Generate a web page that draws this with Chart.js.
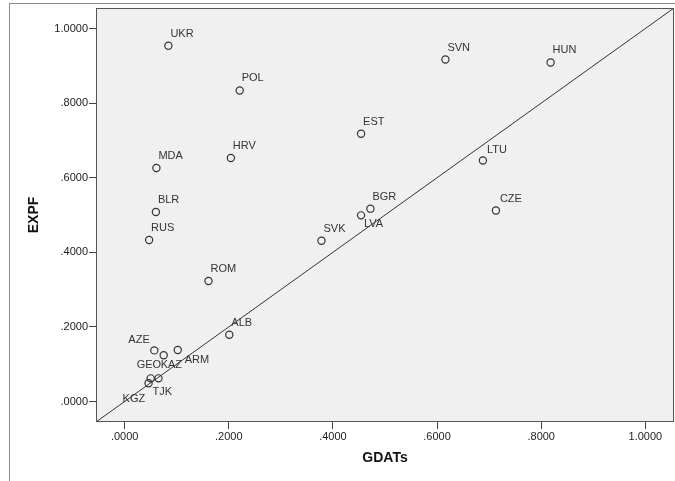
<!DOCTYPE html>
<html>
<head>
<meta charset="utf-8">
<script src="https://cdn.jsdelivr.net/npm/chart.js@4.4.1/dist/chart.umd.min.js"></script>
<style>
  body { margin: 0; background: #fff; }
  #wrap { position: relative; width: 675px; height: 481px; }
  #frame { position: absolute; left: 9px; top: 3px; right: 0; bottom: 0;
           border-left: 1px solid #8c8c8c; border-top: 1px solid #8c8c8c; }
  canvas { position: absolute; left: 0; top: 0; }
</style>
</head>
<body>
<div id="wrap">
  <div id="frame"></div>
  <canvas id="myChart" width="675" height="481"></canvas>
</div>
<script>
// Data
const countries = ['UKR', 'POL', 'SVN', 'HUN', 'EST', 'HRV', 'MDA', 'BLR', 'LTU', 'CZE', 'BGR',
                   'LVA', 'SVK', 'RUS', 'ROM', 'ALB', 'AZE', 'KAZ', 'ARM', 'GEO', 'TJK', 'KGZ'];
const gdats = [0.084, 0.221, 0.616, 0.818, 0.454, 0.204, 0.061, 0.060, 0.688, 0.713, 0.472,
               0.454, 0.378, 0.047, 0.161, 0.201, 0.057, 0.075, 0.102, 0.050, 0.065, 0.046];
const expf = [0.954, 0.834, 0.917, 0.909, 0.718, 0.653, 0.626, 0.508, 0.646, 0.512, 0.517,
              0.499, 0.431, 0.433, 0.323, 0.179, 0.137, 0.124, 0.138, 0.062, 0.062, 0.049];
const tickValues = [0, 0.2, 0.4, 0.6, 0.8, 1.0];
const tickLabels = ['.0000', '.2000', '.4000', '.6000', '.8000', '1.0000'];
const axisMin = -0.055;
const axisMax = 1.055;
// reference line y = x across the plot
const refLine = [axisMin, axisMax];

// label placement relative to its point (pixels)
const labelShift = {
  LVA: [3, 9], AZE: [-26, -10], ARM: [7, 10], KAZ: [-3, 10],
  GEO: [-14, -13], TJK: [-6, 14], KGZ: [-26, 16], LTU: [4, -11], CZE: [4, -12]
};

const FONT = '"Liberation Sans", Arial, sans-serif';

const plotDecor = {
  id: 'plotDecor',
  beforeDraw(chart) {
    const { ctx, chartArea: a } = chart;
    ctx.save();
    ctx.fillStyle = '#f0f0f0';
    ctx.fillRect(a.left, a.top, a.right - a.left, a.bottom - a.top);
    ctx.restore();
  },
  afterDraw(chart) {
    const { ctx, chartArea: a } = chart;
    ctx.save();
    ctx.strokeStyle = '#555';
    ctx.lineWidth = 1;
    ctx.strokeRect(Math.round(a.left) + 0.5, Math.round(a.top) + 0.5,
                   Math.round(a.right - a.left) - 1, Math.round(a.bottom - a.top) - 1);
    // point labels
    const meta = chart.getDatasetMeta(1);
    ctx.font = '11px ' + FONT;
    ctx.fillStyle = '#333';
    ctx.textAlign = 'left';
    ctx.textBaseline = 'middle';
    meta.data.forEach((pt, i) => {
      const s = labelShift[countries[i]] || [2, -12];
      ctx.fillText(countries[i], pt.x + s[0], pt.y + s[1]);
    });
    ctx.restore();
  }
};

const ctx = document.getElementById('myChart').getContext('2d');
new Chart(ctx, {
  data: {
    datasets: [
      {
        type: 'line',
        data: refLine.map(v => ({ x: v, y: v })),
        borderColor: '#333',
        borderWidth: 1,
        pointRadius: 0
      },
      {
        type: 'scatter',
        data: gdats.map((g, i) => ({ x: g, y: expf[i] })),
        pointStyle: 'circle',
        pointRadius: 3.6,
        borderWidth: 1.2,
        borderColor: '#333',
        backgroundColor: 'rgba(0,0,0,0)'
      }
    ]
  },
  options: {
    responsive: false,
    animation: false,
    layout: { autoPadding: false, padding: { left: 0, top: 8, right: 1, bottom: 0 } },
    plugins: { legend: { display: false }, tooltip: { enabled: false } },
    scales: {
      x: {
        type: 'linear',
        min: axisMin,
        max: axisMax,
        afterBuildTicks: s => { s.ticks = tickValues.map(v => ({ value: v })); },
        afterFit: s => { s.height = 59; s.paddingLeft = 0; s.paddingRight = 0; },
        ticks: {
          callback: v => tickLabels[tickValues.indexOf(v)],
          font: { family: FONT, size: 11 },
          color: '#222',
          padding: 1,
          maxRotation: 0
        },
        grid: { drawOnChartArea: false, tickLength: 7, color: '#444' },
        border: { display: false },
        title: {
          display: true,
          text: 'GDATs',
          font: { family: FONT, size: 14, weight: 'bold' },
          color: '#111',
          padding: { top: 0, bottom: 14 }
        }
      },
      y: {
        type: 'linear',
        min: axisMin,
        max: axisMax,
        afterBuildTicks: s => { s.ticks = tickValues.map(v => ({ value: v })); },
        afterFit: s => { s.width = 96; s.paddingTop = 0; s.paddingBottom = 0; },
        ticks: {
          callback: v => tickLabels[tickValues.indexOf(v)],
          font: { family: FONT, size: 11 },
          color: '#222',
          padding: 1
        },
        grid: { drawOnChartArea: false, tickLength: 7, color: '#444' },
        border: { display: false },
        title: {
          display: true,
          text: 'EXPF',
          font: { family: FONT, size: 14, weight: 'bold' },
          color: '#111',
          padding: { top: 26, bottom: 0 }
        }
      }
    }
  },
  plugins: [plotDecor]
});
</script>
</body>
</html>
